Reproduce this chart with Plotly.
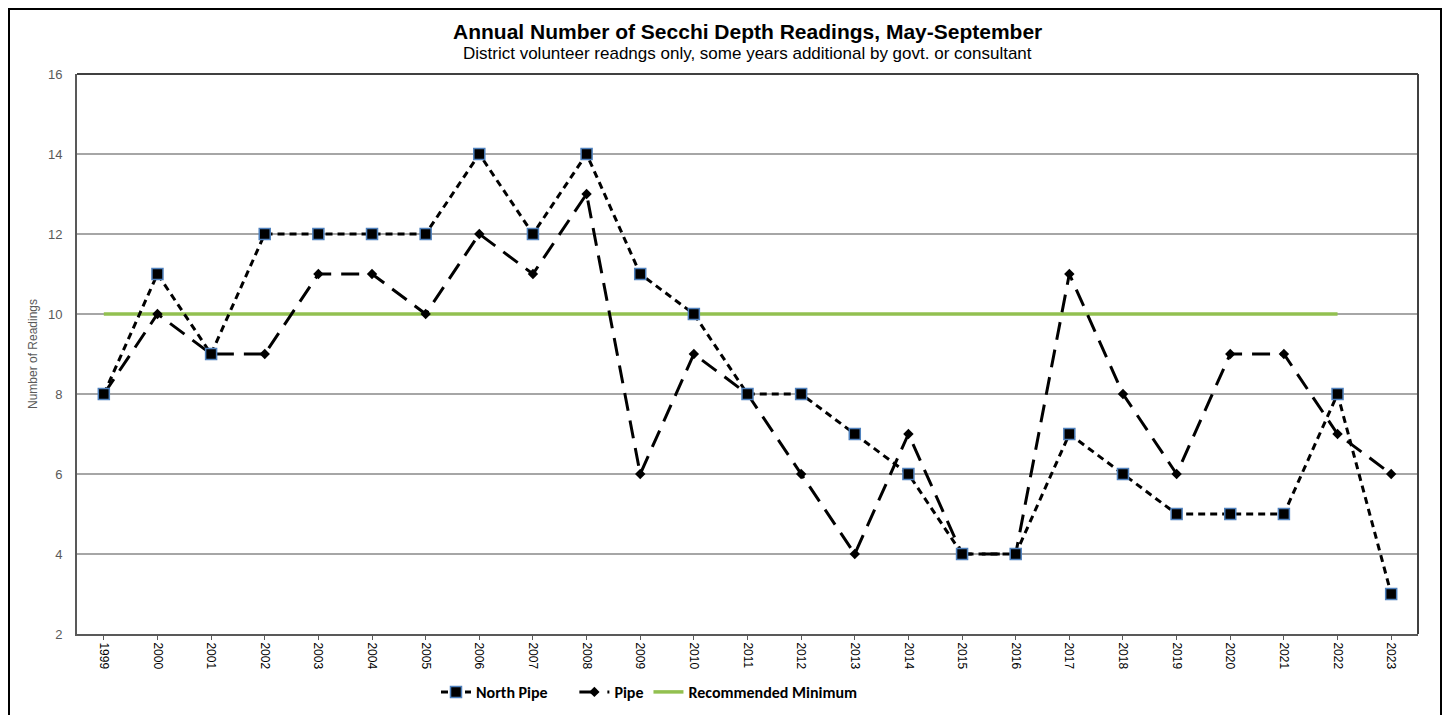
import plotly.graph_objects as go

years = [str(y) for y in range(1999, 2024)]
north_pipe = [8, 11, 9, 12, 12, 12, 12, 14, 12, 14, 11, 10, 8, 8, 7, 6, 4, 4, 7, 6, 5, 5, 5, 8, 3]
pipe = [8, 10, 9, 9, 11, 11, 10, 12, 11, 13, 6, 9, 8, 6, 4, 7, 4, 4, 11, 8, 6, 9, 9, 7, 6]
rec_years = [str(y) for y in range(1999, 2023)]
rec_min = [10] * len(rec_years)

# page has an 8px body margin, so plot margins are shifted by that
W, H = 1450, 715
L, R, T, B = 69, 40, 66, 89
pw, ph = W - L - R, H - T - B

fig = go.Figure()
fig.add_trace(go.Scatter(
    x=rec_years, y=rec_min, mode="lines", name="Recommended Minimum",
    line=dict(color="#92c050", width=3.5)))
fig.add_trace(go.Scatter(
    x=years, y=pipe, mode="lines+markers", name="Pipe",
    line=dict(color="black", width=3, dash="18px,10px"),
    marker=dict(symbol="diamond", size=8, color="black")))
fig.add_trace(go.Scatter(
    x=years, y=north_pipe, mode="lines+markers", name="North Pipe" + "\u00a0" * 6,
    line=dict(color="black", width=3, dash="7px,5px"),
    marker=dict(symbol="square", size=11, color="black",
                line=dict(color="#4f81bd", width=1.5))))

fig.update_layout(
    width=W, height=H,
    paper_bgcolor="white", plot_bgcolor="white",
    margin=dict(l=L, r=R, t=T, b=B, autoexpand=False),
    font=dict(family="Liberation Sans, Arial", color="black"),
    showlegend=True,
    legend=dict(orientation="h", x=(436 - 8 - L) / pw, xanchor="left", y=-58/ph, yanchor="middle",
                traceorder="reversed", itemwidth=30,
                font=dict(family="Carlito, Calibri, Liberation Sans", size=16,
                          color="black", weight="bold")),
    annotations=[
        dict(text="<b>Annual Number of Secchi Depth Readings, May-September</b>",
             x=0.5, y=1, xref="paper", yref="paper", yanchor="middle", yshift=43,
             showarrow=False, font=dict(size=21)),
        dict(text="District volunteer readngs only, some years additional by govt. or consultant",
             x=0.5, y=1, xref="paper", yref="paper", yanchor="middle", yshift=21,
             showarrow=False, font=dict(size=17)),
    ],
)

fig.update_xaxes(
    type="category", range=[-0.5, 24.5], tickangle=90, automargin=False,
    showline=True, linecolor="#595959", linewidth=2, mirror=False,
    ticks="outside", ticklen=4, tickcolor="#595959",
    tickfont=dict(size=12, color="black"),
    showgrid=False)
fig.update_yaxes(
    range=[2, 16], dtick=2, tick0=2, automargin=False,
    showline=True, linecolor="#595959", linewidth=2,
    gridcolor="#a6a6a6", gridwidth=1.5,
    tickfont=dict(size=13, color="#595959"), ticks="", ticklabelstandoff=10,
    title=dict(text="Number of Readings",
               font=dict(size=12, color="#595959", family="Liberation Sans Narrow, Liberation Sans"),
               standoff=8),
    zeroline=False)

# top and right frame of the plot area and outer border
fig.add_shape(type="line", xref="paper", yref="paper", x0=0, x1=1, y0=1, y1=1,
              line=dict(color="#404040", width=2))
fig.add_shape(type="line", xref="paper", yref="paper", x0=1, x1=1, y0=0, y1=1,
              line=dict(color="#404040", width=2))
fig.add_shape(type="rect", xref="paper", yref="paper",
              x0=(1 - L) / pw, x1=(1433 - L) / pw, y0=-(B + 20) / ph, y1=1 + (T - 1) / ph,
              line=dict(color="black", width=2), layer="below")

fig.write_html("out.html")
